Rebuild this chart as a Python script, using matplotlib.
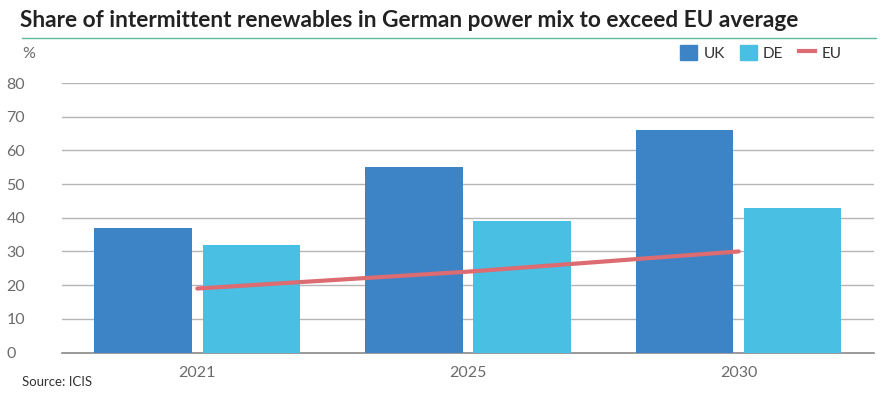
import numpy as np
import matplotlib.pyplot as plt
from matplotlib.lines import Line2D
from matplotlib.patches import Patch

plt.rcParams['font.family'] = ['Lato', 'DejaVu Sans']

years = ['2021', '2025', '2030']
uk = [37, 55, 66]
de = [32, 39, 43]
eu = [19, 24, 30]

UK_COL = '#3d84c6'
DE_COL = '#48bfe3'
EU_COL = '#dc6b72'
TXT = '#6b6b6b'

fig = plt.figure(figsize=(8.89, 4.01), dpi=100)
ax = fig.add_axes([0.0697, 0.1209, 0.9134, 0.6721])

x = np.arange(len(years))
w = 0.36
ax.bar(x - 0.2, uk, width=w, color=UK_COL, zorder=3)
ax.bar(x + 0.2, de, width=w, color=DE_COL, zorder=3)
ax.plot(x, eu, color=EU_COL, lw=3, zorder=4, solid_capstyle='round')

ax.set_xlim(-0.5, 2.5)
ax.set_ylim(0, 80)
ax.set_yticks(range(0, 81, 10))
ax.set_xticks(x)
ax.set_xticklabels(years)
ax.grid(axis='y', color='#b5b5b5', lw=1, zorder=0)
for s in ['top', 'right', 'left']:
    ax.spines[s].set_visible(False)
ax.spines['bottom'].set_color('#8a8a8a')
ax.spines['bottom'].set_linewidth(1.2)
ax.tick_params(axis='both', length=0, labelsize=11.5, colors=TXT)
ax.tick_params(axis='x', pad=10)
for lab in ax.get_yticklabels():
    lab.set_horizontalalignment('left')
ax.tick_params(axis='y', pad=40)

# title and rule
fig.text(0.0225, 0.950, 'Share of intermittent renewables in German power mix to exceed EU average',
         fontsize=16.3, fontweight='bold', color='#222222', va='center', ha='left')
fig.add_artist(Line2D([0.025, 0.985], [0.906, 0.906], color='#5dbb98', lw=1))

fig.text(0.0247, 0.866, '%', fontsize=11.5, color=TXT, va='center')
fig.text(0.0247, 0.047, 'Source: ICIS', fontsize=9.5, color='#333333', va='center')

handles = [Patch(color=UK_COL, label='UK'), Patch(color=DE_COL, label='DE'),
           Line2D([], [], color=EU_COL, lw=3, label='EU')]
fig.legend(handles=handles, loc='center right', bbox_to_anchor=(0.962, 0.868), ncol=3,
           frameon=False, fontsize=11, handlelength=1.1, handleheight=1.1,
           columnspacing=1.0, handletextpad=0.4, labelcolor='#333333')

fig.savefig('out.png', dpi=100)
